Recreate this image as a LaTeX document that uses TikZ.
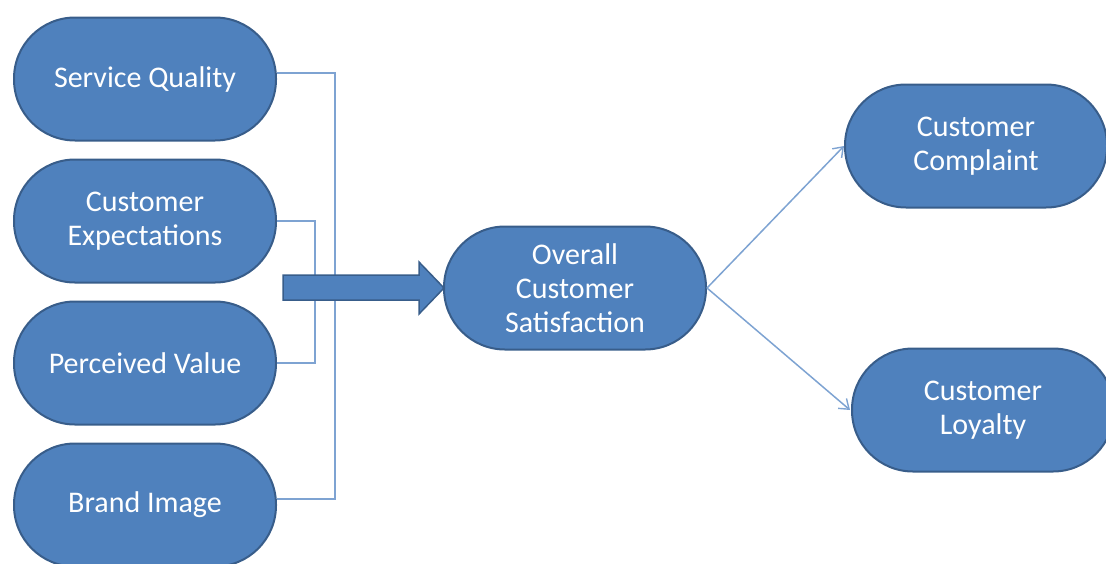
\documentclass[tikz,border=0pt]{standalone}
\usepackage{fontspec}
\setmainfont{Carlito}
\usetikzlibrary{arrows.meta}
\definecolor{boxfill}{HTML}{4F81BD}
\definecolor{boxline}{HTML}{385D8A}
\definecolor{connline}{HTML}{7EA3D2}
\begin{document}
\begin{tikzpicture}[x=1pt,y=-1pt,
  pill/.style={draw=boxline, line width=2pt, fill=boxfill, rounded corners=61pt,
    minimum width=262pt, minimum height=123pt, inner sep=0pt, text=white,
    align=center, font=\fontsize{30}{34}\selectfont},
  conn/.style={draw=connline, line width=1.5pt},
  thinarrow/.style={conn, -{Straight Barb[length=9pt,width=13pt,line width=1.4pt]}},
  bigarrow/.style={draw=boxline, line width=1.5pt, fill=boxfill}
]
\useasboundingbox (0,0) rectangle (1106,563);
\node[pill] (sq) at (145,79) {Service Quality};
\node[pill] (ce) at (145,221) {Customer\\Expectations};
\node[pill] (pv) at (145,363) {Perceived Value};
\node[pill] (bi) at (145,505) {Brand Image};
\node[pill] (ocs) at (575,288) {Overall\\Customer\\Satisfaction};
\node[pill] (cc) at (976,146) {Customer\\Complaint};
\node[pill] (cl) at (983,410) {Customer\\Loyalty};
% bracket connectors
\coordinate (sqe) at ([yshift=6pt]sq.east);
\coordinate (bie) at ([yshift=6pt]bi.east);
\coordinate (outerx) at (335,0);
\coordinate (innerx) at (315,0);
\draw[conn] (sqe) -| (outerx |- bie) -- (bie);
\draw[conn] (ce.east) -| (innerx |- pv.east) -- (pv.east);
% big block arrow
\draw[bigarrow] (283,275) -- (419,275) -- (419,262) -- (444,288) -- (419,314) -- (419,300) -- (283,300) -- cycle;
% thin arrows
\draw[thinarrow] (ocs.east) -- (cc.west);
\draw[thinarrow] (ocs.east) -- ([xshift=-1pt]cl.west);
\end{tikzpicture}
\end{document}
